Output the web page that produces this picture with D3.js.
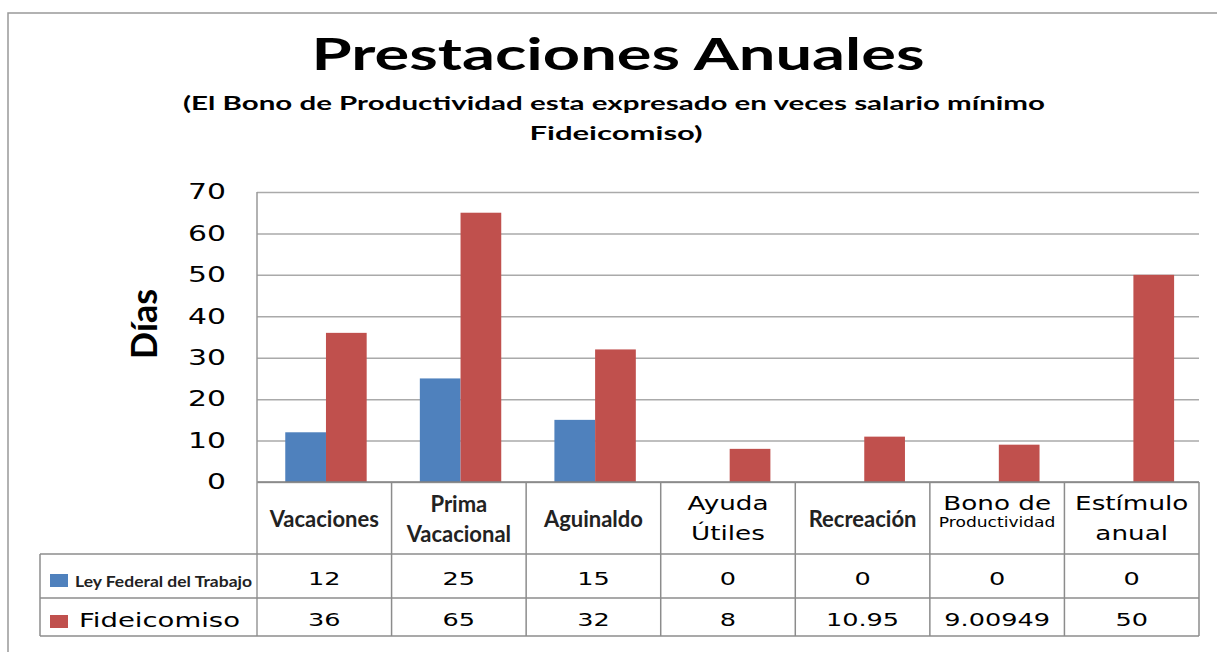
<!DOCTYPE html>
<html>
<head>
<meta charset="utf-8">
<script src="https://cdn.jsdelivr.net/npm/d3@7"></script>
<style>
  body { margin: 0; background: #fff; }
  svg { display: block; }
</style>
</head>
<body>
<div id="chart"></div>
<script>
// data
var categories = ["Vacaciones", "Prima Vacacional", "Aguinaldo", "Ayuda Útiles", "Recreación", "Bono de Productividad", "Estímulo anual"];
var headerLines = [["Vacaciones"], ["Prima", "Vacacional"], ["Aguinaldo"], ["Ayuda", "Útiles"], ["Recreación"], ["Bono de", "Productividad"], ["Estímulo", "anual"]];
var seriesNames = ["Ley Federal del Trabajo", "Fideicomiso"];
var leyValues = [12, 25, 15, 0, 0, 0, 0];
var fideValues = [36, 65, 32, 8, 10.95, 9.00949, 50];
var yTicks = [0, 10, 20, 30, 40, 50, 60, 70];
var colors = ["#4F81BD", "#C0504D"];

var W = 1217, H = 652;
var plot = {left: 257, right: 1199, top: 192, bottom: 482};
var rowY = [482, 554, 598, 636];   // table row edges
var tableLeft = 40;

var calibri = "Lato, 'Open Sans', sans-serif";
var verdana = "'DejaVu Sans', Verdana, sans-serif";

var svg = d3.select("#chart").append("svg")
    .attr("width", W)
    .attr("height", H);

// stretch text horizontally (the source text is wide)
function stretch(sel, f) {
  sel.each(function() {
    var w = this.getComputedTextLength();
    d3.select(this).attr("textLength", w * f).attr("lengthAdjust", "spacingAndGlyphs");
  });
}
function fit(sel, w) {
  sel.attr("textLength", w).attr("lengthAdjust", "spacingAndGlyphs");
}

// outer frame
svg.append("rect")
    .attr("x", 8).attr("y", 13)
    .attr("width", 1400).attr("height", 1000)
    .attr("fill", "none")
    .attr("stroke", "#999")
    .attr("stroke-width", 1.5);

// title
svg.append("text")
    .attr("x", 618).attr("y", 70)
    .attr("text-anchor", "middle")
    .style("font-family", calibri)
    .style("font-weight", 700)
    .style("font-size", "43px")
    .text("Prestaciones Anuales")
    .call(fit, 613);

svg.append("text")
    .attr("x", 614).attr("y", 110)
    .attr("text-anchor", "middle")
    .style("font-family", calibri)
    .style("font-weight", 700)
    .style("font-size", "18px")
    .text("(El Bono de Productividad esta expresado en veces salario mínimo")
    .call(fit, 862);

svg.append("text")
    .attr("x", 616).attr("y", 140)
    .attr("text-anchor", "middle")
    .style("font-family", calibri)
    .style("font-weight", 700)
    .style("font-size", "18px")
    .text("Fideicomiso)")
    .call(fit, 173);

// scales
var x = d3.scaleBand()
    .domain(categories)
    .range([plot.left, plot.right])
    .padding(0);

var x1 = d3.scaleBand()
    .domain(seriesNames)
    .range([x.bandwidth() * 0.21, x.bandwidth() * 0.815]);

var y = d3.scaleLinear()
    .domain([0, 70])
    .range([plot.bottom, plot.top]);

// gridlines + tick labels
var yAxis = svg.append("g")
    .attr("transform", "translate(" + plot.left + ",0)")
    .call(d3.axisLeft(y).tickValues(yTicks).tickSize(-(plot.right - plot.left)).tickPadding(31));

yAxis.select(".domain").remove();
yAxis.selectAll(".tick line")
    .attr("stroke", "#aaa")
    .attr("stroke-width", 1.5);
yAxis.selectAll(".tick text")
    .style("font-family", verdana)
    .style("font-size", "21px")
    .attr("fill", "#000")
    .call(stretch, 1.42);

// axis title
svg.append("text")
    .attr("transform", "translate(157,324) rotate(-90)")
    .attr("text-anchor", "middle")
    .style("font-family", calibri)
    .style("font-weight", 700)
    .style("font-size", "36px")
    .text("Días");

// bars
var series = [leyValues, fideValues];
var groups = svg.append("g").selectAll("g")
    .data(series)
    .enter().append("g")
    .attr("fill", function(d, i) { return colors[i]; });

groups.selectAll("rect")
    .data(function(d, i) {
      return d.map(function(v, j) { return {cat: categories[j], s: seriesNames[i], v: v}; });
    })
    .enter().append("rect")
    .attr("x", function(d) { return x(d.cat) + x1(d.s); })
    .attr("width", x1.bandwidth())
    .attr("y", function(d) { return y(d.v); })
    .attr("height", function(d) { return y(0) - y(d.v); });

// base axis line and left axis line
svg.append("line")
    .attr("x1", plot.left).attr("x2", plot.right)
    .attr("y1", y(0)).attr("y2", y(0))
    .attr("stroke", "#808080").attr("stroke-width", 1.5);
svg.append("line")
    .attr("x1", plot.left).attr("x2", plot.left)
    .attr("y1", plot.top).attr("y2", rowY[3])
    .attr("stroke", "#999").attr("stroke-width", 1.5);

// data table grid
var grid = svg.append("g")
    .attr("stroke", "#8c8c8c")
    .attr("stroke-width", 1.5);

categories.forEach(function(c) {
  grid.append("line")
      .attr("x1", x(c) + x.bandwidth()).attr("x2", x(c) + x.bandwidth())
      .attr("y1", rowY[0]).attr("y2", rowY[3]);
});
[rowY[1], rowY[2], rowY[3]].forEach(function(yy) {
  grid.append("line")
      .attr("x1", tableLeft).attr("x2", plot.right)
      .attr("y1", yy).attr("y2", yy);
});
grid.append("line")
    .attr("x1", tableLeft).attr("x2", tableLeft)
    .attr("y1", rowY[1]).attr("y2", rowY[3]);

// header row
var wideHeader = [false, false, false, true, false, true, true];
categories.forEach(function(c, i) {
  var cx = x(c) + x.bandwidth() / 2;
  var lines = headerLines[i];
  if (!wideHeader[i]) {
    var base = lines.length === 1 ? [527] : [512, 542];
    lines.forEach(function(l, k) {
      svg.append("text")
          .attr("x", cx).attr("y", base[k])
          .attr("text-anchor", "middle")
          .style("font-family", calibri)
          .style("font-weight", 700)
          .style("font-size", "22px")
          .attr("fill", "#222")
          .text(l);
    });
  } else {
    lines.forEach(function(l, k) {
      var small = (i === 5 && k === 1);
      svg.append("text")
          .attr("x", cx).attr("y", small ? 527 : (k === 0 ? 510 : 540))
          .attr("text-anchor", "middle")
          .style("font-family", verdana)
          .style("font-size", small ? "14px" : "19px")
          .attr("fill", "#000")
          .text(l)
          .call(stretch, small ? 1.22 : 1.38);
    });
  }
});

// value rows
series.forEach(function(vals, r) {
  vals.forEach(function(v, j) {
    svg.append("text")
        .attr("x", x(categories[j]) + x.bandwidth() / 2)
        .attr("y", r === 0 ? 585 : 626)
        .attr("text-anchor", "middle")
        .style("font-family", verdana)
        .style("font-size", "18px")
        .attr("fill", "#000")
        .text(String(v))
        .call(stretch, 1.42);
  });
});

// legend keys in the table
seriesNames.forEach(function(s, r) {
  svg.append("rect")
      .attr("x", 50).attr("y", r === 0 ? 574 : 615)
      .attr("width", 18).attr("height", 13)
      .attr("fill", colors[r]);
});
svg.append("text")
    .attr("x", 75).attr("y", 587)
    .style("font-family", calibri)
    .style("font-weight", 700)
    .style("font-size", "15px")
    .attr("fill", "#222")
    .text(seriesNames[0])
    .call(fit, 177);
svg.append("text")
    .attr("x", 79).attr("y", 627)
    .style("font-family", verdana)
    .style("font-size", "20px")
    .attr("fill", "#000")
    .text(seriesNames[1])
    .call(fit, 161);
</script>
</body>
</html>
